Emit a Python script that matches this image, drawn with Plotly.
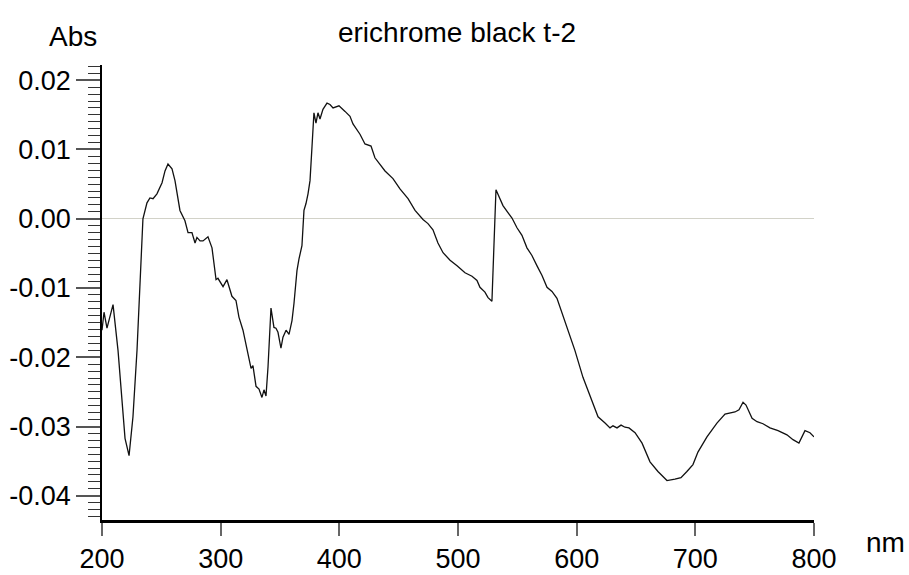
import plotly.graph_objects as go

# wavelength (nm) and absorbance
wavelength = [
    200.0, 201.7, 204.2, 209.3, 213.5, 216.9, 219.4, 222.8, 226.1, 229.5,
    232.0, 234.5, 237.9, 240.4, 243.0, 246.3, 250.6, 253.1, 255.6, 259.0,
    261.5, 265.7, 269.9, 272.5, 275.8, 278.4, 280.0, 282.6, 285.1, 289.3,
    292.7, 296.1, 297.7, 302.0, 305.3, 307.0, 309.5, 312.9, 315.4, 318.8,
    322.2, 325.6, 327.2, 329.8, 332.3, 334.8, 336.5, 338.2, 339.9, 342.4,
    344.9, 346.6, 348.3, 350.8, 352.5, 355.1, 357.6, 360.1, 361.8, 364.3,
    366.0, 368.5, 370.2, 371.9, 373.6, 375.3, 377.0, 378.6, 380.3, 382.0,
    383.7, 386.2, 389.6, 392.1, 394.7, 399.7, 404.8, 409.0, 411.5, 417.4,
    421.6, 426.7, 430.0, 434.3, 438.5, 445.2, 451.1, 457.9, 463.8, 470.5,
    474.7, 478.9, 483.1, 487.4, 493.3, 499.2, 505.9, 511.8, 516.0, 518.5,
    522.7, 525.3, 528.6, 532.0, 533.7, 537.9, 542.1, 545.5, 549.7, 553.9,
    558.1, 562.3, 566.6, 570.8, 575.0, 579.2, 583.4, 587.6, 591.8, 598.5,
    605.3, 612.9, 618.0, 623.9, 628.1, 630.6, 634.0, 637.4, 640.7, 644.1,
    649.2, 655.1, 661.8, 668.5, 676.1, 682.8, 687.9, 692.9, 698.0, 702.2,
    709.8, 718.2, 725.0, 733.4, 736.8, 740.2, 742.7, 747.8, 752.0, 757.0,
    762.9, 769.7, 777.2, 782.3, 787.3, 792.4, 796.6, 800.0,
]
absorbance = [
    -0.0161, -0.0135, -0.0158, -0.0124, -0.0190, -0.0262, -0.0317, -0.0342, -0.0286, -0.0190,
    -0.0094, 0.0000, 0.0023, 0.0030, 0.0029, 0.0036, 0.0052, 0.0069, 0.0079, 0.0072,
    0.0055, 0.0012, -0.0003, -0.0020, -0.0020, -0.0035, -0.0027, -0.0032, -0.0032, -0.0026,
    -0.0042, -0.0088, -0.0086, -0.0098, -0.0088, -0.0099, -0.0112, -0.0118, -0.0142, -0.0161,
    -0.0190, -0.0216, -0.0212, -0.0242, -0.0246, -0.0258, -0.0247, -0.0256, -0.0214, -0.0129,
    -0.0157, -0.0158, -0.0164, -0.0187, -0.0171, -0.0161, -0.0167, -0.0147, -0.0122, -0.0075,
    -0.0058, -0.0039, 0.0012, 0.0022, 0.0036, 0.0055, 0.0105, 0.0153, 0.0138, 0.0153,
    0.0144, 0.0158, 0.0167, 0.0165, 0.0160, 0.0163, 0.0155, 0.0148, 0.0137, 0.0122,
    0.0108, 0.0105, 0.0088, 0.0079, 0.0069, 0.0058, 0.0043, 0.0029, 0.0012, -0.0001,
    -0.0007, -0.0016, -0.0035, -0.0049, -0.0060, -0.0068, -0.0078, -0.0083, -0.0089, -0.0099,
    -0.0106, -0.0114, -0.0119, 0.0042, 0.0036, 0.0019, 0.0009, 0.0001, -0.0013, -0.0024,
    -0.0042, -0.0053, -0.0068, -0.0082, -0.0099, -0.0105, -0.0115, -0.0135, -0.0158, -0.0190,
    -0.0229, -0.0262, -0.0286, -0.0295, -0.0302, -0.0299, -0.0302, -0.0298, -0.0301, -0.0302,
    -0.0309, -0.0324, -0.0351, -0.0365, -0.0378, -0.0376, -0.0374, -0.0365, -0.0355, -0.0337,
    -0.0315, -0.0295, -0.0282, -0.0279, -0.0276, -0.0265, -0.0269, -0.0288, -0.0293, -0.0296,
    -0.0302, -0.0306, -0.0312, -0.0319, -0.0324, -0.0306, -0.0309, -0.0315,
]

x_ticks = [200, 300, 400, 500, 600, 700, 800]
y_ticks = [-0.04, -0.03, -0.02, -0.01, 0.00, 0.01, 0.02]
y_ticktext = ["-0.04", "-0.03", "-0.02", "-0.01", "0.00", "0.01", "0.02"]
y_mid_ticks = [-0.035, -0.025, -0.015, -0.005, 0.005, 0.015]

title_text = "erichrome black t-2"
y_label = "Abs"
x_label = "nm"

FONT = "Liberation Sans, Arial, sans-serif"
Y_RANGE = [-0.0435, 0.0222]

fig = go.Figure()
fig.add_trace(go.Scatter(
    x=wavelength, y=absorbance, mode="lines",
    line=dict(color="#111111", width=1.3),
    showlegend=False, hoverinfo="x+y",
))

fig.update_layout(
    width=909, height=575,
    margin=dict(l=102, r=95, t=65, b=55, autoexpand=False),
    paper_bgcolor="white", plot_bgcolor="white",
    font=dict(family=FONT, color="black", size=27),
    title=dict(text=title_text, x=457 / 909, xref="container", xanchor="center",
               y=1 - 32 / 575, yref="container", yanchor="middle",
               automargin=False,
               font=dict(size=28, family=FONT, color="black")),
    xaxis=dict(
        range=[200, 800], tickvals=x_ticks, ticktext=[str(v) for v in x_ticks],
        showgrid=False, zeroline=False, automargin=False,
        showline=True, linecolor="black", linewidth=2.5,
        ticks="outside", ticklen=13, tickwidth=1.5, tickcolor="#666666",
        tickfont=dict(size=27, family=FONT, color="black"),
    ),
    yaxis=dict(
        range=Y_RANGE, tickvals=y_ticks, ticktext=y_ticktext,
        showgrid=False, automargin=False,
        zeroline=True, zerolinecolor="#d2d2c8", zerolinewidth=1,
        showline=True, linecolor="black", linewidth=1.5,
        ticks="outside", ticklen=24, tickwidth=1.5, tickcolor="#555555",
        tickfont=dict(size=27, family=FONT, color="black"),
        minor=dict(dtick=0.001, tick0=0, ticks="outside", ticklen=12,
                   tickwidth=1.2, tickcolor="#333333", showgrid=False),
    ),
    yaxis2=dict(
        range=Y_RANGE, overlaying="y", side="left", anchor="x",
        tickvals=y_mid_ticks, showticklabels=False, automargin=False,
        showgrid=False, zeroline=False, showline=False,
        ticks="outside", ticklen=19, tickwidth=1.2, tickcolor="#333333",
    ),
    annotations=[
        dict(text=y_label, xref="paper", yref="paper", x=-0.0042, y=1.062,
             xanchor="right", yanchor="middle", showarrow=False,
             font=dict(size=28, family=FONT, color="black")),
        dict(text=x_label, xref="paper", yref="paper", x=1.101, y=-0.05,
             xanchor="center", yanchor="middle", showarrow=False,
             font=dict(size=28, family=FONT, color="black")),
    ],
)

fig.write_html("out.html")
